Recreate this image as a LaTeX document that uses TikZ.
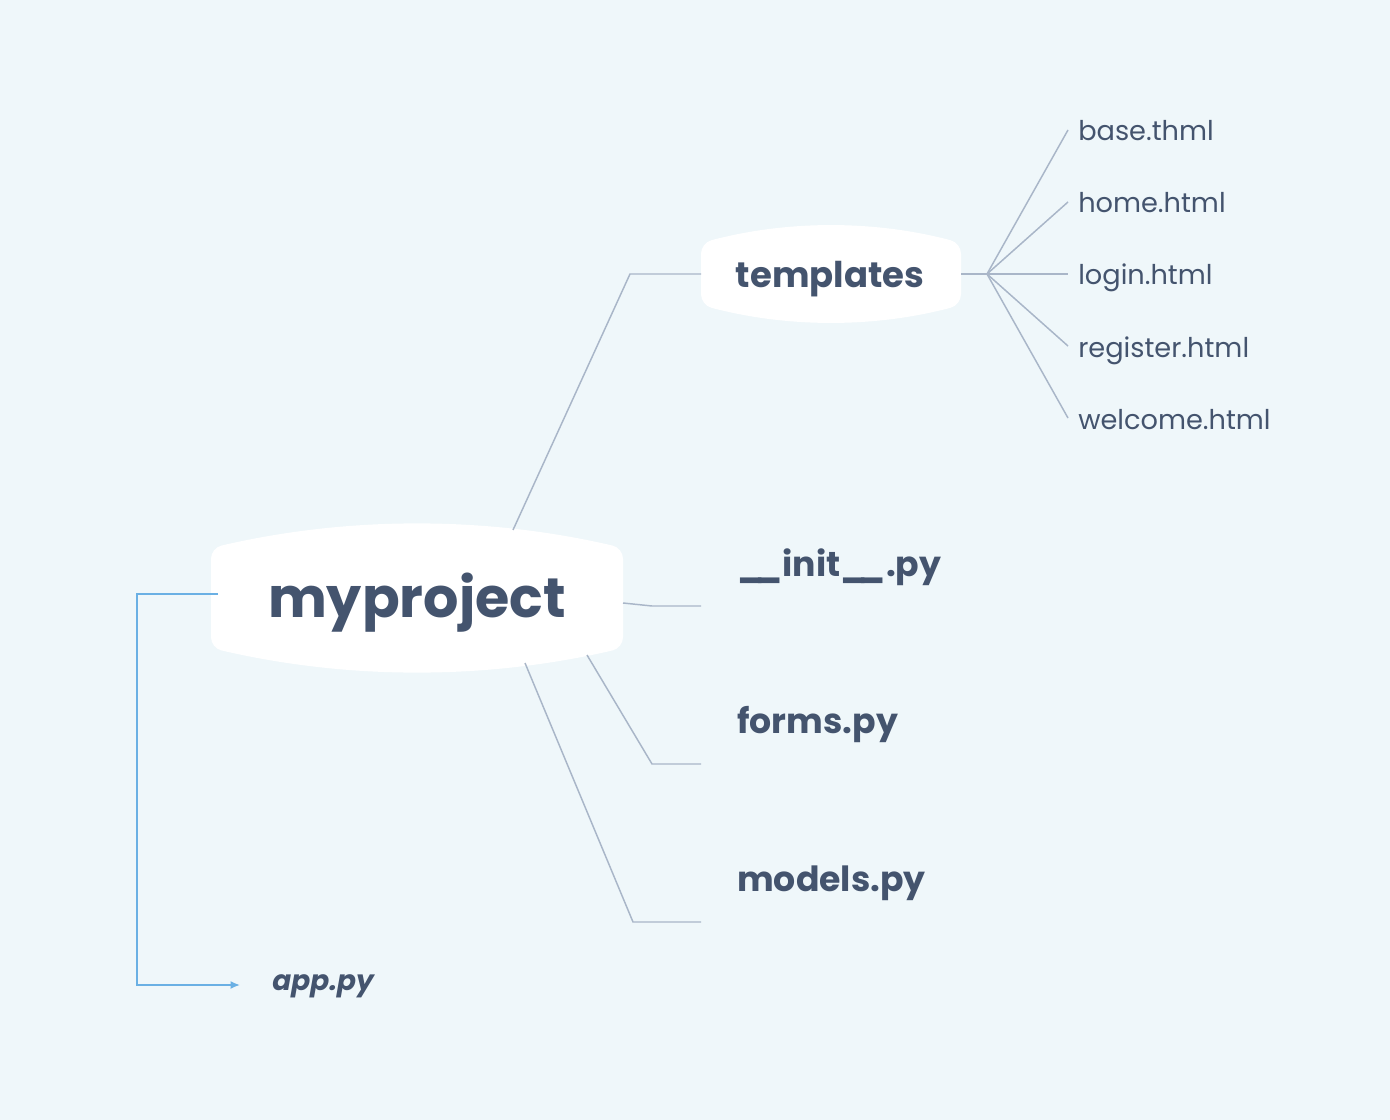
\documentclass[tikz,border=0pt]{standalone}
\usepackage{fontspec}
\setmainfont{Poppins}
\usetikzlibrary{calc,positioning,backgrounds,arrows.meta}

\definecolor{bgblue}{HTML}{EFF7FA}
\definecolor{ink}{HTML}{44546E}
\definecolor{twig}{HTML}{A9B6C8}
\definecolor{arrowblue}{HTML}{6AB0E4}

% white bubble round a centre: half width, half side, bulge
\newcommand\bubble[4]{%
  \fill[white,rounded corners=8]
    ($(#1)+(-#2,-#3)$) .. controls ($(#1)+(-#2/3,-#3-#4)$) and ($(#1)+(#2/3,-#3-#4)$) .. ($(#1)+(#2,-#3)$)
    -- ($(#1)+(#2,#3)$) .. controls ($(#1)+(#2/3,#3+#4)$) and ($(#1)+(-#2/3,#3+#4)$) .. ($(#1)+(-#2,#3)$)
    -- cycle;}
\newcommand\uu{\_\kern-6.5pt\_}

\begin{document}
\begin{tikzpicture}[x=0.75pt,y=-0.75pt,
  root/.style={anchor=base,text=ink,font=\fontsize{41.7}{42}\selectfont\bfseries,inner sep=0pt},
  topic/.style={anchor=base west,text=ink,font=\fontsize{26}{26}\selectfont\bfseries,inner sep=0pt},
  leaf/.style={anchor=base west,text=ink,font=\fontsize{20.4}{21}\selectfont,inner sep=0pt},
  twig/.style={draw=twig,line width=1.1pt},
  link/.style={draw=arrowblue,line width=1.3pt,-{Latex[length=7pt,width=6pt]}}]

  \fill[bgblue] (0,0) rectangle (1390,1120);
  \useasboundingbox (0,0) rectangle (1390,1120);

  \coordinate (P) at (417,598);
  \coordinate (T) at (831,274);
  \bubble{P}{206}{50}{32}
  \bubble{T}{130}{31}{23}

  \node[root] (myproject) at (417,617) {myproject};
  \node[root,font=\fontsize{26.6}{27}\selectfont\bfseries] (templates) at (830,288) {templates};

  \node[topic] (init) at (737,576) {\uu init\uu.py};
  \node[topic] (forms) at (737,733) {forms.py};
  \node[topic] (models) at (737,891) {models.py};
  \node[topic,font=\fontsize{21}{21}\selectfont\bfseries\itshape] (app) at (272,990) {app.py};

  \node[leaf] (base) at (1078,141) {base.thml};
  \node[leaf] (home) at (1078,213) {home.html};
  \node[leaf] (login) at (1078,285) {login.html};
  \node[leaf] (register) at (1078,357) {register.html};
  \node[leaf] (welcome) at (1078,429) {welcome.html};

  % connector ends
  \coordinate (P-top) at (513,530);
  \coordinate (P-right) at (623,603);
  \coordinate (P-low) at (587,655);
  \coordinate (P-bottom) at (525,663);
  \coordinate (P-left) at (218,594);
  \coordinate (T-left) at (701,274);
  \coordinate (T-right) at (961,274);
  \coordinate (fork) at (987,274);
  \coordinate (init-end) at (701,606);
  \coordinate (forms-end) at (701,764);
  \coordinate (models-end) at (701,922);
  \coordinate (app-end) at (240,985);

  \draw[twig] (P-top) -- (630,274) -- (T-left);
  \draw[twig] (P-right) -- (652,606) -- (init-end);
  \draw[twig] (P-low) -- (652,764) -- (forms-end);
  \draw[twig] (P-bottom) -- (633,922) -- (models-end);
  \draw[link] (P-left) -| (137,985) -- (app-end);

  \draw[twig] (T-right) -- (fork);
  \foreach \n in {base,home,login,register,welcome}
    \draw[twig] (fork) -- ($(\n.base west)+(-10,-11)$);
\end{tikzpicture}
\end{document}
